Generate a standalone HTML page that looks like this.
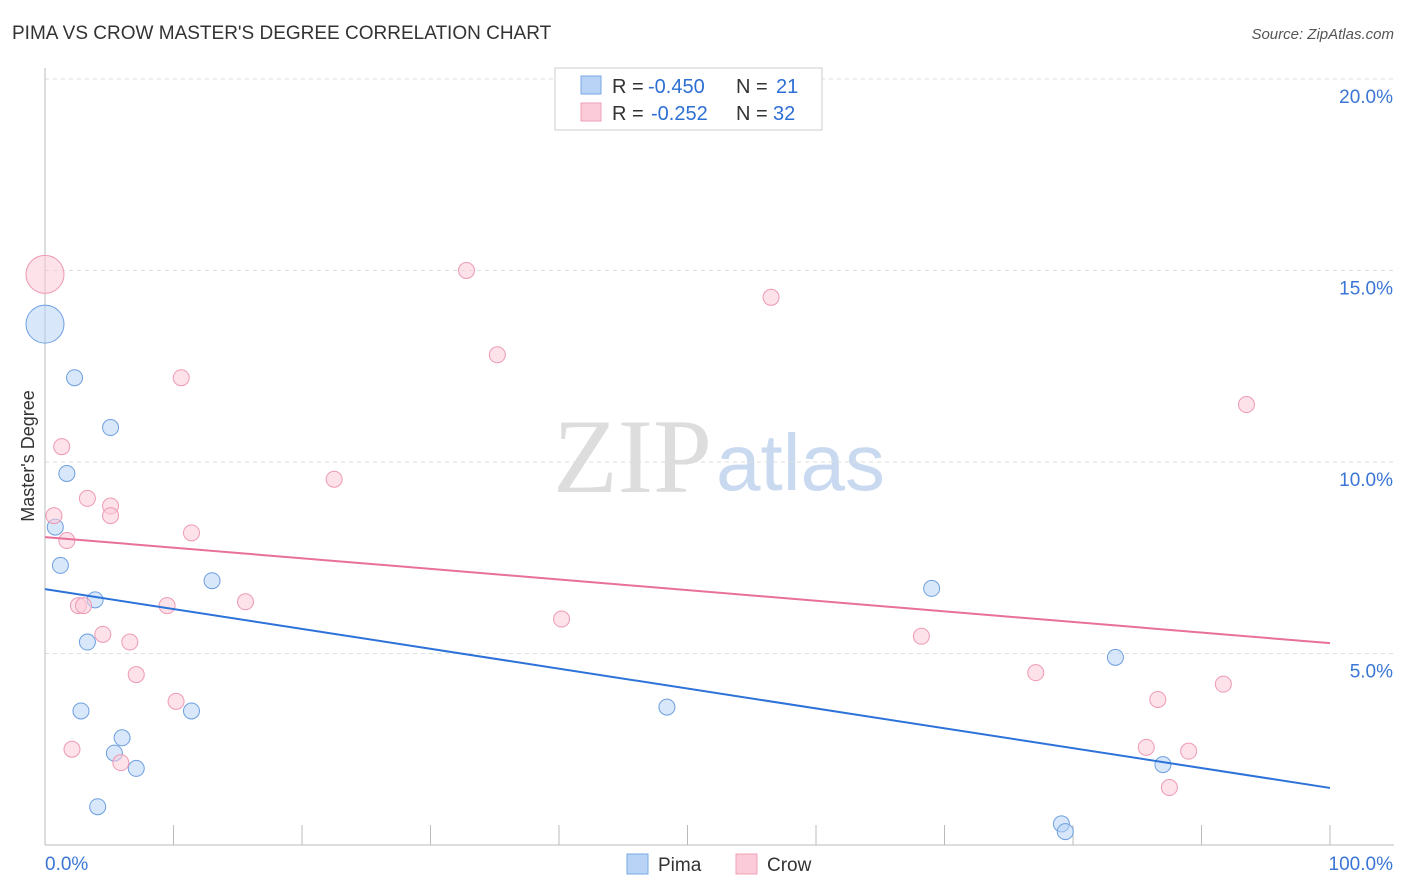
<!DOCTYPE html>
<html><head><meta charset="utf-8">
<style>
body{margin:0;background:#fff;font-family:"Liberation Sans",sans-serif;}
#c{position:relative;width:1406px;height:892px;overflow:hidden;}
</style></head>
<body>
<div id="c">
<svg id="s" width="1406" height="892">
<text x="12" y="39" font-size="19" fill="#333">PIMA VS CROW MASTER'S DEGREE CORRELATION CHART</text>
<text x="1394" y="39" font-size="15" fill="#555" text-anchor="end" font-style="italic">Source: ZipAtlas.com</text>
<text x="553" y="492" font-size="106" fill="#ddd" font-family="Liberation Serif">ZIP</text>
<text x="716" y="490" font-size="80" fill="#c9daf0">atlas</text>
<text transform="translate(34,456) rotate(-90)" font-size="18" fill="#333" text-anchor="middle">Master's Degree</text>
<g id="grid"></g><g id="marks"></g>
<g>
<rect x="555" y="68" width="267" height="62" fill="#fff" stroke="#ccc"/>
<rect x="581" y="76" width="20" height="18" fill="#b8d3f5" stroke="#7aa9e6"/>
<rect x="581" y="103" width="20" height="18" fill="#fbcbd9" stroke="#f0a0b8"/>
<text x="612" y="93" font-size="20" fill="#333">R =</text>
<text x="648" y="93" font-size="20" fill="#2d6fd3">-0.450</text>
<text x="736" y="93" font-size="20" fill="#333">N =</text>
<text x="776" y="93" font-size="20" fill="#2d6fd3">21</text>
<text x="612" y="120" font-size="20" fill="#333">R =</text>
<text x="651" y="120" font-size="20" fill="#2d6fd3">-0.252</text>
<text x="736" y="120" font-size="20" fill="#333">N =</text>
<text x="773" y="120" font-size="20" fill="#2d6fd3">32</text>
</g>
<g>
<rect x="627" y="854" width="21" height="20" fill="#b8d3f5" stroke="#7aa9e6"/>
<text x="658" y="871" font-size="19" fill="#333">Pima</text>
<rect x="736" y="854" width="21" height="20" fill="#fbcbd9" stroke="#f0a0b8"/>
<text x="767" y="871" font-size="19" fill="#333">Crow</text>
</g>
</svg>
</div>
<script>
const xTicks=[0,10,20,30,40,50,60,70,80,90,100];
const yTicks=[5,10,15,20];
const yTickLabels=["5.0%","10.0%","15.0%","20.0%"];
const pimaX=[0,2.3,5.1,1.7,0.8,1.2,3.9,13.0,3.3,2.8,11.4,6.0,5.4,7.1,4.1,48.4,69.0,83.3,87.0,79.1,79.4];
const pimaY=[13.6,12.2,10.9,9.7,8.3,7.3,6.4,6.9,5.3,3.5,3.5,2.8,2.4,2.0,1.0,3.6,6.7,4.9,2.1,0.55,0.35];
const crowX=[0,32.8,56.5,35.2,10.6,93.5,1.3,22.5,3.3,5.1,0.7,5.1,11.4,1.7,15.6,2.6,3.0,9.5,40.2,4.5,6.6,68.2,7.1,77.1,91.7,10.2,86.6,2.1,85.7,89.0,5.9,87.5];
const crowY=[14.9,15.0,14.3,12.8,12.2,11.5,10.4,9.55,9.05,8.85,8.6,8.6,8.15,7.95,6.35,6.25,6.25,6.25,5.9,5.5,5.3,5.45,4.45,4.5,4.2,3.75,3.8,2.5,2.55,2.45,2.15,1.5];
const pimaTrend=[6.68,1.49];
const crowTrend=[8.04,5.27];
const X=v=>45+v*12.85, Y=v=>845-v*38.3;
const NS="http://www.w3.org/2000/svg";
function mk(t,a,p){const e=document.createElementNS(NS,t);for(const k in a)e.setAttribute(k,a[k]);p.appendChild(e);return e;}
const g=document.getElementById('grid'),m=document.getElementById('marks');
yTicks.forEach((v,i)=>{
 const l=mk('line',{x1:45,x2:1394,y1:Y(v),y2:Y(v),stroke:'#ddd','stroke-dasharray':'4,4'},g);
 
 
 const t=mk('text',{x:1393,y:Y(v)+24,'font-size':19,fill:'#3b76d6','text-anchor':'end'},g);
 t.textContent=yTickLabels[i];
 
 
});
mk('line',{x1:45,x2:45,y1:68,y2:845,stroke:'#bbb'},g);
mk('line',{x1:45,x2:1394,y1:845,y2:845,stroke:'#bbb'},g);
xTicks.forEach(v=>{const l=mk('line',{x1:X(v),x2:X(v),y1:825,y2:845,stroke:'#bbb'},g);
 
 });
const t0=mk('text',{x:45,y:870,'font-size':19,fill:'#3b76d6'},g);t0.textContent='0.0%';


const t1=mk('text',{x:1393,y:870,'font-size':19,fill:'#3b76d6','text-anchor':'end'},g);t1.textContent='100.0%';


function pts(xs,ys,fill,stroke,name){xs.forEach((x,i)=>{
 const c=mk('circle',{cx:X(x),cy:Y(ys[i]),r:i==0?19:8,fill:fill,'fill-opacity':0.55,stroke:stroke,'stroke-width':1},m);
 
 
});}
pts(pimaX,pimaY,'#b8d3f5','#6d9fe0','pima-point');
pts(crowX,crowY,'#fbcbd9','#ee9ab3','crow-point');
const l1=mk('line',{x1:X(0),y1:Y(pimaTrend[0]),x2:X(100),y2:Y(pimaTrend[1]),stroke:'#2d72d9','stroke-width':2},m);


const l2=mk('line',{x1:X(0),y1:Y(crowTrend[0]),x2:X(100),y2:Y(crowTrend[1]),stroke:'#e8709a','stroke-width':2},m);


</script>
</body></html>
